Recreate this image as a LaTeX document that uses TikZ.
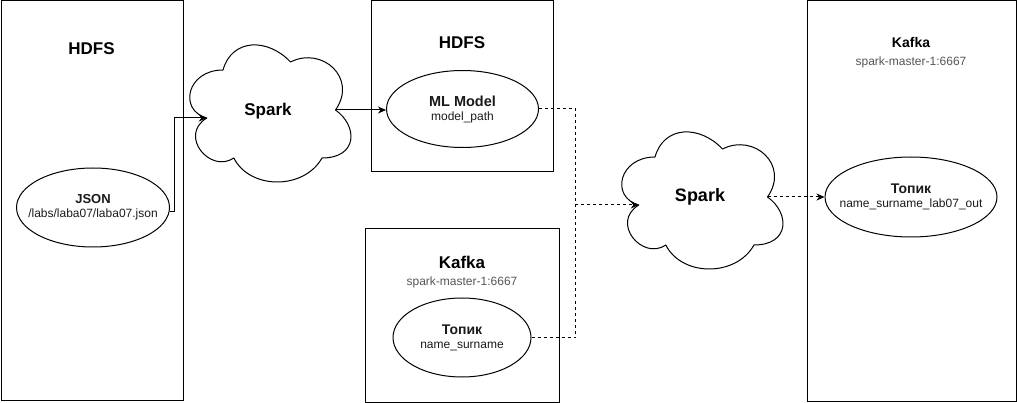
\documentclass[tikz,border=0pt]{standalone}
\usepackage{fontspec}
\setmainfont{Liberation Sans}
\usetikzlibrary{shapes.geometric,arrows.meta}
\definecolor{subgray}{HTML}{555555}
\definecolor{txt}{HTML}{1A1A1A}
\tikzset{
  box/.style={draw, line width=1pt, inner sep=0pt, anchor=north west},
  oval/.style={ellipse, draw, line width=1pt, inner sep=0pt},
  ovaltext/.style={align=center, inner sep=0pt, font=\fontsize{12}{14}\selectfont, text=txt},
  bigtitle/.style={font=\fontsize{17}{20}\selectfont\bfseries},
  midtitle/.style={font=\fontsize{14}{16}\selectfont\bfseries},
  subtxt/.style={font=\fontsize{12}{14}\selectfont, text=subgray},
  conn/.style={line width=1pt, -{Stealth[length=8pt,width=7pt,inset=2.5pt]}},
  dconn/.style={conn, dash pattern=on 3pt off 3pt},
  dline/.style={line width=1pt, dash pattern=on 3pt off 3pt},
  cloudline/.style={draw, line width=1pt, line join=round},
}
\newcommand{\sparkcloudpath}{%
  (0.25,0.25) .. controls (0.05,0.25) and (0,0.5) .. (0.16,0.55)
  .. controls (0,0.66) and (0.18,0.9) .. (0.31,0.8)
  .. controls (0.4,1) and (0.7,1) .. (0.8,0.8)
  .. controls (1,0.8) and (1,0.6) .. (0.875,0.5)
  .. controls (1,0.3) and (0.8,0.1) .. (0.625,0.2)
  .. controls (0.5,0.05) and (0.3,0.05) .. (0.25,0.25) -- cycle}
\begin{document}
\begin{tikzpicture}[x=1pt,y=-1pt]
\useasboundingbox (0,0) rectangle (1017,403);

% containers
\node[box, minimum width=182.5pt, minimum height=399.5pt] (hdfsA) at (0.5,0.5) {};
\node[box, minimum width=182pt, minimum height=170.5pt] (hdfsB) at (371,0.5) {};
\node[box, minimum width=194pt, minimum height=173.5pt] (kafkaA) at (365,228) {};
\node[box, minimum width=209pt, minimum height=400.5pt] (kafkaB) at (807,0.5) {};

% container titles
\node[bigtitle] (hdfsAt) at (91.5,49) {HDFS};
\node[bigtitle] (hdfsBt) at (462,42.5) {HDFS};
\node[bigtitle] (kafkaAt) at (462,262) {Kafka};
\node[subtxt] (kafkaAs) at (462,282) {spark-master-1:6667};
\node[midtitle] (kafkaBt) at (911,42) {Kafka};
\node[subtxt] (kafkaBs) at (911,62) {spark-master-1:6667};

% ellipses
\node[oval, minimum width=153pt, minimum height=79pt,
  label={[ovaltext]center:{{\fontsize{13}{15}\selectfont\bfseries JSON}\\/labs/laba07/laba07.json}}]
  (json) at (93,207.5) {};
\node[oval, minimum width=152pt, minimum height=77pt,
  label={[ovaltext]center:{{\fontsize{14.5}{16}\selectfont\bfseries ML Model}\\model\_path}}]
  (ml) at (462.5,109) {};
\node[oval, minimum width=138pt, minimum height=79pt,
  label={[ovaltext]center:{{\fontsize{14}{16}\selectfont\bfseries Топик}\\name\_surname}}]
  (topicA) at (462,337.5) {};
\node[oval, minimum width=172pt, minimum height=80pt,
  label={[ovaltext]center:{{\fontsize{14}{16}\selectfont\bfseries Топик}\\name\_surname\_lab07\_out}}]
  (topicB) at (911,197) {};

% clouds
\begin{scope}[shift={(178,30)}, x=180pt, y=-160pt]
  \path[cloudline] \sparkcloudpath;
  \coordinate (c1in) at (0.16,0.55);
  \coordinate (c1out) at (0.875,0.5);
  \node[bigtitle] (spark1) at (0.5,0.505) {Spark};
\end{scope}
\begin{scope}[shift={(610,117)}, x=180pt, y=-160pt]
  \path[cloudline] \sparkcloudpath;
  \coordinate (c2in) at (0.16,0.55);
  \coordinate (c2out) at (0.875,0.5);
  \node[font=\fontsize{18}{20}\selectfont\bfseries] (spark2) at (0.5,0.5) {Spark};
\end{scope}

% connectors
\coordinate (jbend) at (174.5,0);
\draw[conn] (json.-3.5) -| (jbend |- c1in) -- (c1in);
\draw[conn] (c1out) -- (c1out -| ml.west);
\coordinate (jn) at (575.5,0);
\draw[dconn] (ml.east) -| (jn |- c2in) -- (c2in);
\draw[dline] (topicA.east) -| (jn |- c2in);
\draw[dconn] (c2out) -- (topicB.west);
\end{tikzpicture}
\end{document}
